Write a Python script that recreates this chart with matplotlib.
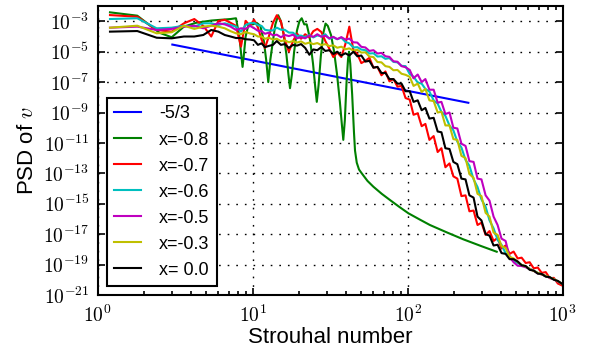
import numpy as np
import matplotlib
matplotlib.use("Agg")
import matplotlib.pyplot as plt
from matplotlib.ticker import FixedLocator, FuncFormatter, LogLocator, NullFormatter

plt.rcParams['font.family'] = ['Liberation Sans', 'DejaVu Sans']
plt.rcParams['mathtext.fontset'] = 'cm'

# ---------------- data (log10 of PSD) ----------------
freq = [1.2, 1.8, 2.4, 3.0, 3.6, 4.2, 4.8, 5.4, 6.0, 6.6, 7.2, 7.8, 8.4, 9.0, 9.6,
        10.2, 10.8, 11.4, 12.0, 12.7, 13.5, 14.3, 15.2, 16.1, 17.1, 18.2, 19.3, 20.5,
        21.8, 23.2, 24.6, 26.1, 27.7, 29.4, 31.2, 33.1, 35.1, 37.3, 39.6, 42.0, 44.6,
        47.3, 50.2, 53.3, 56.6, 60.1, 63.8, 67.7, 71.8, 76.2, 80.9, 85.9, 91.2, 96.8,
        103, 109, 116, 123, 130, 138, 147, 156, 165, 175, 186, 197, 209, 222, 236, 250,
        266, 282, 299, 318, 337, 358, 380, 403, 428, 454, 482, 512, 543, 577, 612, 650,
        690, 732, 777, 825, 876, 930, 1000]

psd_red = [-2.59, -2.7, -3.57, -3.68, -3.13, -2.85, -3.3, -4.0, -2.98, -2.9, -3.1, -3.3, -4.67, -2.97, -3.3,
           -2.9, -3.4, -4.2, -4.75, -4.0, -3.1, -2.6, -3.0, -4.2, -5.0, -4.3, -3.8, -4.15,
           -3.85, -4.05, -3.65, -3.5, -3.7, -4.3, -4.8, -5.35, -5.05, -5.35, -4.5, -3.35, -4.9,
           -5.15, -5.75, -5.6, -5.4, -6.05, -6.0, -6.55, -6.3, -6.95, -6.8, -7.3, -7.25, -8.05,
           -8.15, -9.15, -9.05, -9.9, -9.75, -10.8, -10.55, -11.6, -11.35, -12.6, -12.35, -13.2, -13.35, -14.5, -14.45, -15.5,
           -15.45, -16.4, -16.25, -17.05, -16.8, -17.45, -17.25, -17.95, -17.75, -18.3, -18.15, -18.6, -18.55, -18.9, -18.85, -19.25,
           -19.2, -19.55, -19.5, -19.9, -19.88, -20.25, -20.4]

psd_cyan = [-2.85, -2.8, -3.46, -3.42, -3.29, -3.35, -3.13, -3.13, -3.24, -3.13, -3.24, -3.35, -3.68, -3.24, -3.13,
            -3.1, -3.26, -3.3, -3.56, -3.6, -3.6, -3.42, -3.55, -3.56, -3.74, -3.75, -3.96, -3.94,
            -4.04, -3.9, -4.06, -3.93, -3.98, -3.85, -4.15, -4.06, -4.18, -4.08, -4.35, -4.45, -4.72,
            -4.7, -4.86, -4.9, -5.12, -5.1, -5.32, -5.3, -5.47, -5.42, -5.67, -5.7, -5.93, -5.95,
            -6.47, -6.64, -7.03, -7.1, -7.45, -7.62, -8.2, -8.42, -8.96, -9.22, -9.86, -10.17, -10.92, -11.3, -12.12, -12.5,
            -13.4, -13.9, -14.72, -15.2, -16.1, -16.62, -17.38, -17.7, -18.26, -18.45, -18.78, -18.9, -19.03, -19.15, -19.28, -19.4,
            -19.55, -19.65, -19.76, -19.86, -19.97, -20.1, -20.28]

psd_magenta = [-3.42, -3.35, -3.57, -3.5, -3.35, -3.29, -3.46, -3.29, -3.13, -3.2, -3.35, -3.57, -3.46, -3.5, -3.3,
               -3.45, -3.62, -3.65, -3.82, -3.75, -3.92, -3.88, -4.05, -3.9, -3.97, -3.88, -4.12, -4.04,
               -4.12, -3.93, -4.02, -3.85, -4.02, -3.95, -4.12, -4.02, -4.17, -4.04, -4.2, -4.14, -4.38,
               -4.4, -4.68, -4.72, -4.95, -4.9, -5.12, -5.08, -5.3, -5.34, -5.63, -5.66, -5.95, -6.02,
               -6.2, -6.75, -6.5, -7.0, -6.8, -7.5, -7.5, -8.35, -8.3, -9.1, -9.0, -10.0, -10.05, -11.05, -11.2, -12.2,
               -12.25, -13.35, -13.4, -14.45, -14.8, -15.85, -16.4, -17.3, -17.45, -18.5, -18.85, -19.08, -19.1, -19.18, -19.3, -19.42,
               -19.58, -19.66, -19.76, -19.88, -19.98, -20.12, -20.3]

psd_yellow = [-3.42, -3.29, -3.79, -3.72, -3.29, -3.5, -3.35, -3.29, -3.35, -3.46, -3.65, -3.79, -3.85, -3.7, -3.8,
              -3.85, -4.0, -4.0, -4.15, -4.08, -4.2, -4.15, -4.3, -4.25, -4.38, -4.3, -4.4, -4.32,
              -4.48, -4.4, -4.5, -4.43, -4.56, -4.5, -4.63, -4.58, -4.74, -4.67, -4.84, -4.78, -4.93,
              -4.87, -5.06, -5.04, -5.32, -5.35, -5.68, -5.7, -5.95, -6.0, -6.22, -6.2, -6.45, -6.52,
              -6.65, -7.25, -7.1, -7.65, -7.45, -8.2, -8.25, -9.0, -8.95, -9.85, -9.85, -10.75, -10.8, -11.85, -12.0, -13.05,
              -13.3, -14.35, -14.5, -15.6, -15.85, -16.9, -17.05, -17.8, -17.9, -18.5, -18.6, -18.82, -19.03, -19.12, -19.3, -19.42,
              -19.55, -19.65, -19.75, -19.85, -19.97, -20.1, -20.3]

psd_black = [-3.68, -3.64, -4.08, -4.12, -4.0, -4.0, -3.9, -3.57, -3.68, -3.9, -4.0, -4.1, -4.1, -4.18, -4.2,
             -4.25, -4.55, -4.45, -4.7, -4.62, -4.55, -4.3, -4.55, -4.5, -4.75, -4.55, -4.6, -4.5,
             -4.75, -5.2, -4.85, -4.9, -4.7, -4.95, -4.9, -5.15, -5.0, -5.25, -5.1, -5.25, -5.0,
             -5.3, -5.25, -5.65, -5.6, -6.05, -6.0, -6.4, -6.4, -6.8, -6.8, -7.1, -7.1, -7.6,
             -7.6, -8.3, -8.2, -8.85, -8.7, -9.4, -9.35, -10.25, -10.3, -11.35, -11.4, -12.25, -12.4, -13.35, -13.4, -14.45,
             -14.6, -15.85, -16.1, -17.0, -17.1, -17.75, -17.7, -18.25, -18.3, -18.65, -18.65, -18.8, -19.05, -19.1, -19.35, -19.4,
             -19.6, -19.62, -19.8, -19.83, -20.0, -20.08, -20.3]

freq_green = [1.2, 1.8, 2.5, 3.0, 3.6, 4.3, 5.4, 7.2, 7.8, 8.2, 8.45, 8.6, 8.75, 9.0, 9.4,
              10.0, 10.6, 11.2, 11.8, 12.2, 12.6, 13.0, 13.5, 14.0, 14.6, 15.2, 15.8, 16.5,
              17.0, 17.4, 17.9, 18.5, 19.3, 20.0, 20.7, 21.5, 22.3, 23.0, 23.5, 24.5, 25.3,
              25.9, 26.6, 27.5, 28.5, 29.5, 30.5, 32, 33.5, 35, 36.5, 37.6, 38.4, 39.3, 40.3,
              41.2, 41.8, 42.6, 43.8, 45, 45.7, 46.9, 48.5, 50.5, 55, 60, 68, 76.9, 88, 101,
              120, 139, 180, 228, 300, 375]
psd_green = [-2.41, -2.63, -3.75, -4.05, -3.35, -3.1, -2.95, -2.85, -2.8, -4.0, -5.3, -6.0, -5.3, -4.0, -3.2,
             -3.2, -3.1, -3.3, -4.3, -5.5, -7.0, -5.5, -4.3, -3.2, -2.6, -3.0, -3.8, -5.2,
             -6.5, -7.4, -6.5, -5.0, -3.6, -3.0, -2.8, -3.2, -3.2, -3.8, -4.3, -5.8, -7.3,
             -8.3, -7.2, -5.3, -3.8, -3.15, -3.3, -3.9, -5.0, -6.5, -8.3, -9.8, -10.8, -9.5, -7.0,
             -5.5, -5.0, -5.8, -7.8, -10.3, -11.5, -12.3, -12.75, -13.0, -13.5, -13.88, -14.35, -14.76, -15.2, -15.63,
             -16.05, -16.4, -16.9, -17.34, -17.8, -18.16]

ref_x = [3.03, 246]
ref_psd = [-4.53, -8.36]

labels = ['-5/3', 'x=-0.8', 'x=-0.7', 'x=-0.6', 'x=-0.5', 'x=-0.3', 'x= 0.0']
colors = ['b', 'g', 'r', 'c', 'm', 'y', 'k']
# classic colour cycle values
cmap = {'b': (0, 0, 1), 'g': (0, 0.5, 0), 'r': (1, 0, 0), 'c': (0, 0.75, 0.75),
        'm': (0.75, 0, 0.75), 'y': (0.75, 0.75, 0), 'k': (0, 0, 0)}

series = [(ref_x, ref_psd), (freq_green, psd_green), (freq, psd_red), (freq, psd_cyan),
          (freq, psd_magenta), (freq, psd_yellow), (freq, psd_black)]

fig = plt.figure(figsize=(5.89, 3.51), dpi=100)
ax = fig.add_axes([0.1659, 0.1598, 0.9554 - 0.1659, 0.9826 - 0.1598])

for (xs, ls), lab, c in zip(series, labels, colors):
    ax.plot(xs, 10.0 ** np.array(ls), color=cmap[c], lw=1.5, label=lab)

ax.set_xscale('log')
ax.set_yscale('log')
ax.set_xlim(1, 1000)
ax.set_ylim(1e-21, 1e-2)

ax.xaxis.set_major_locator(FixedLocator([1, 10, 100, 1000]))
ax.xaxis.set_minor_locator(LogLocator(base=10, subs=np.arange(2, 10)))
ax.xaxis.set_minor_formatter(NullFormatter())
ax.yaxis.set_major_locator(FixedLocator([10.0 ** e for e in range(-21, -2, 2)]))
ax.yaxis.set_minor_locator(FixedLocator([]))
fmt = FuncFormatter(lambda v, p: r'$10^{%d}$' % int(round(np.log10(v))))
ax.xaxis.set_major_formatter(fmt)
ax.yaxis.set_major_formatter(fmt)

ax.tick_params(which='both', direction='in', top=True, right=True, width=1.2)
ax.tick_params(which='major', length=5, labelsize=14)
ax.tick_params(axis='x', which='major', pad=7)
ax.tick_params(axis='y', which='major', pad=6)
ax.tick_params(which='minor', length=3)
for s in ax.spines.values():
    s.set_linewidth(1.5)

ax.grid(True, which='major', color='k', linestyle=(0, (1.2, 5)), linewidth=1.0)

ax.set_xlabel('Strouhal number', fontsize=16, labelpad=1)
ax.set_ylabel(r'PSD of $v$', fontsize=16, labelpad=4)

leg = ax.legend(loc='lower left', fontsize=13, fancybox=False, framealpha=1,
                edgecolor='k', handlelength=1.5, handletextpad=1.0,
                labelspacing=0.5, borderaxespad=0.5)
leg.get_frame().set_linewidth(1.5)

fig.savefig('out.png', dpi=100)
